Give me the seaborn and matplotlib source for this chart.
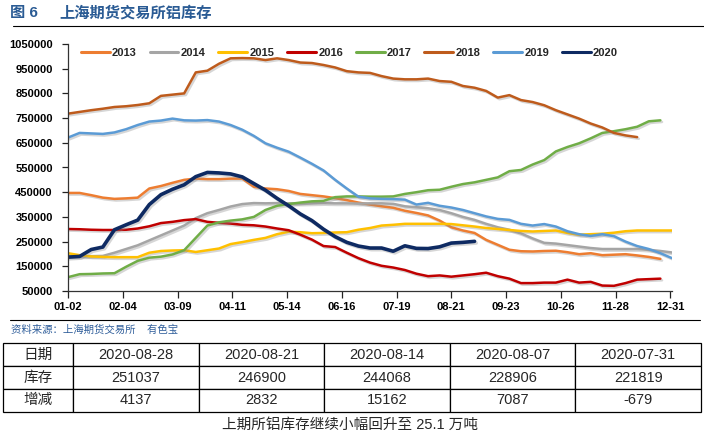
import numpy as np
import pandas as pd
import seaborn as sns
import matplotlib.pyplot as plt
import matplotlib.patheffects as pe
from matplotlib.lines import Line2D

# x axis: one tick every 33 days from 01-02 to 12-31
tick_labels = ["01-02", "02-04", "03-09", "04-11", "05-14", "06-16",
               "07-19", "08-21", "09-23", "10-26", "11-28", "12-31"]
y_ticks = [50000, 150000, 250000, 350000, 450000, 550000,
           650000, 750000, 850000, 950000, 1050000]

# weekly SHFE aluminium stocks (tonnes)
stock_2013 = [447000, 447000, 438000, 428000, 423000, 425000, 428000, 465000, 475000, 488000,
              500000, 505000, 503000, 503000, 505000, 505000, 472000, 465000, 462000, 455000,
              443000, 438000, 433000, 426000, 418000, 408000, 400000, 393000, 387000, 375000,
              366000, 356000, 335000, 308000, 295000, 285000, 257000, 237000, 217000, 211000,
              210000, 212000, 213000, 207000, 199000, 203000, 195000, 197000, 199000, 194000,
              188000, 180000]
stock_2014 = [190000, 190000, 191000, 192000, 205000, 220000, 235000, 255000, 275000, 295000,
              315000, 345000, 365000, 378000, 392000, 402000, 406000, 405000, 406000, 405000,
              404000, 405000, 406000, 405000, 405000, 404000, 405000, 405000, 403000, 393000,
              389000, 385000, 378000, 365000, 350000, 338000, 322000, 308000, 298000, 283000,
              263000, 245000, 242000, 236000, 230000, 224000, 220000, 220000, 220000, 220000,
              217000, 212000, 206000]
stock_2015 = [203000, 195000, 190000, 188000, 187000, 187000, 187000, 205000, 212000, 214000,
              215000, 208000, 215000, 222000, 240000, 248000, 257000, 265000, 280000, 290000,
              288000, 284000, 285000, 287000, 288000, 298000, 305000, 315000, 318000, 322000,
              322000, 322000, 322000, 321000, 316000, 311000, 305000, 301000, 297000, 293000,
              291000, 293000, 295000, 285000, 278000, 280000, 282000, 286000, 292000, 295000,
              295000, 295000, 295000]
stock_2016 = [301000, 300000, 298000, 297000, 297000, 298000, 303000, 312000, 325000, 330000,
              337000, 341000, 330000, 326000, 323000, 318000, 316000, 311000, 303000, 296000,
              278000, 258000, 232000, 228000, 205000, 183000, 165000, 152000, 145000, 135000,
              120000, 110000, 113000, 108000, 113000, 118000, 124000, 110000, 100000, 82000,
              82000, 84000, 84000, 96000, 84000, 87000, 72000, 71000, 82000, 96000,
              98000, 100000]
stock_2017 = [106000, 118000, 119000, 121000, 122000, 148000, 172000, 185000, 189000, 198000,
              215000, 265000, 315000, 328000, 335000, 340000, 350000, 378000, 395000, 402000,
              408000, 413000, 415000, 430000, 433000, 433000, 432000, 432000, 433000, 443000,
              450000, 458000, 460000, 472000, 483000, 490000, 500000, 510000, 535000, 540000,
              562000, 580000, 615000, 633000, 648000, 668000, 690000, 697000, 705000, 715000,
              737000, 741000]
stock_2018 = [768000, 775000, 782000, 788000, 795000, 798000, 803000, 810000, 840000, 845000,
              850000, 935000, 942000, 970000, 992000, 993000, 992000, 985000, 992000, 985000,
              975000, 973000, 965000, 955000, 940000, 935000, 933000, 920000, 910000, 907000,
              907000, 910000, 900000, 897000, 880000, 873000, 860000, 833000, 843000, 823000,
              815000, 802000, 782000, 765000, 748000, 728000, 712000, 690000, 680000, 673000]
stock_2019 = [671000, 690000, 688000, 686000, 692000, 705000, 722000, 736000, 740000, 748000,
              741000, 740000, 742000, 736000, 722000, 703000, 678000, 648000, 630000, 614000,
              590000, 565000, 538000, 500000, 465000, 432000, 425000, 423000, 422000, 420000,
              400000, 407000, 395000, 388000, 378000, 365000, 352000, 342000, 338000, 322000,
              315000, 321000, 311000, 292000, 280000, 273000, 280000, 272000, 250000, 232000,
              220000, 203000, 183000]
stock_2020 = [187000, 190000, 218000, 228000, 298000, 318000, 337000, 400000, 440000, 462000,
              480000, 513000, 530000, 528000, 524000, 512000, 485000, 458000, 425000, 395000,
              362000, 335000, 300000, 270000, 247000, 232000, 224000, 224000, 211000, 233000,
              222498, 221819, 228906, 244068, 246900, 251037]

years = ["2013", "2014", "2015", "2016", "2017", "2018", "2019", "2020"]
series = [stock_2013, stock_2014, stock_2015, stock_2016,
          stock_2017, stock_2018, stock_2019, stock_2020]
colors = {"2013": "#ED7D31", "2014": "#A5A5A5", "2015": "#FFC000", "2016": "#C00000",
          "2017": "#70AD47", "2018": "#BE5B1C", "2019": "#5B9BD5", "2020": "#0E2A62"}

table_dates = ["2020-08-28", "2020-08-21", "2020-08-14", "2020-08-07", "2020-07-31"]
table_stock = [251037, 246900, 244068, 228906, 221819]
table_change = [4137, 2832, 15162, 7087, -679]

# long table: one row per week per year, x in days since 01-02
rows = []
for year, values in zip(years, series):
    for week, v in enumerate(values):
        rows.append({"year": year, "day": week * 7, "stock": v})
df = pd.DataFrame(rows)

sns.set_theme(style="white")
plt.rcParams['font.family'] = ['Liberation Sans', 'Noto Sans CJK SC', 'DejaVu Sans']

fig = plt.figure(figsize=(7.04, 4.37), dpi=100)
ax = fig.add_axes([68 / 704, 1 - 291 / 437, 604 / 704, 247 / 437])

shadow = [pe.SimpleLineShadow(offset=(1.2, -1.2), shadow_color='#8c8c8c', alpha=0.35), pe.Normal()]
for year in years:
    lw = 2.6 if year == "2020" else 1.8
    sns.lineplot(data=df[df["year"] == year], x="day", y="stock", color=colors[year],
                 linewidth=lw, ax=ax, legend=False, path_effects=shadow)

ax.set_xlim(0, 364)
ax.set_ylim(50000, 1050000)
ax.set_xticks(np.arange(0, 364, 33), tick_labels)
ax.set_yticks(y_ticks, [str(v) for v in y_ticks])
ax.set_xlabel("")
ax.set_ylabel("")
ax.tick_params(axis='y', direction='out', length=4, width=0.9, pad=7, labelsize=8, left=True, colors='#222222')
ax.tick_params(axis='x', direction='out', length=5, width=0.9, pad=3, labelsize=8, bottom=True, colors='#222222')
for lbl in ax.get_xticklabels() + ax.get_yticklabels():
    lbl.set_fontweight('bold')
    lbl.set_color('black')
sns.despine(ax=ax)
for s in ["left", "bottom"]:
    ax.spines[s].set_color('#333333')
    ax.spines[s].set_linewidth(0.9)

handles = [Line2D([], [], color=colors[y], lw=2.2) for y in years]
ax.legend(handles, years, ncol=8, loc='center left', bbox_to_anchor=(0.014, 0.964),
          borderaxespad=0, frameon=False, handlelength=2.6, handletextpad=0.2,
          columnspacing=1.15, prop={'weight': 'bold', 'size': 8})

# header
fig.text(10 / 704, 1 - 13 / 437, "图 6", fontsize=11, fontweight='bold', color='#2A5B94', va='center')
fig.text(59 / 704, 1 - 13 / 437, "上海期货交易所铝库存", fontsize=11, fontweight='bold',
         color='#2A5B94', va='center')
fig.add_artist(Line2D([13 / 704, 1.0], [1 - 26 / 437] * 2, color='black', lw=0.8,
                      transform=fig.transFigure))
fig.add_artist(Line2D([10 / 704, 700 / 704], [1 - 320 / 437] * 2, color='black', lw=0.8,
                      transform=fig.transFigure))
fig.text(11 / 704, 1 - 330 / 437, "资料来源：上海期货交易所    有色宝", fontsize=7.5,
         style='italic', color='#2E5D9A', va='center')

# table below the chart
tax = fig.add_axes([3.3 / 704, 1 - 411.7 / 437, 697.7 / 704, 68.4 / 437])
tax.axis('off')
cell_text = [["日期"] + table_dates,
             ["库存"] + [str(v) for v in table_stock],
             ["增减"] + [str(v) for v in table_change]]
widths = [70] + [125.5] * 5
tbl = tax.table(cellText=cell_text, cellLoc='center',
                colWidths=[w / sum(widths) for w in widths], bbox=[0, 0, 1, 1])
tbl.auto_set_font_size(False)
tbl.set_fontsize(10.5)
for cell in tbl.get_celld().values():
    cell.set_linewidth(0.9)
    cell.set_edgecolor('black')

fig.text(350 / 704, 1 - 425 / 437, "上期所铝库存继续小幅回升至 25.1 万吨", fontsize=10.5,
         ha='center', va='center')

fig.savefig("out.png", dpi=100)
